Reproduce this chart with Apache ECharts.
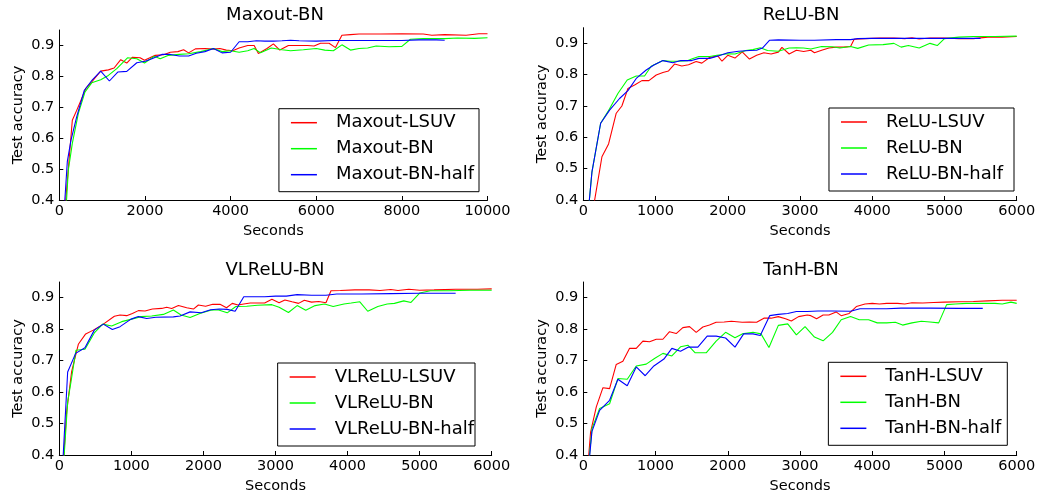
<!DOCTYPE html>
<html>
<head>
<meta charset="utf-8">
<script src="https://cdn.jsdelivr.net/npm/echarts@6/dist/echarts.min.js"></script>
<style>
html,body{margin:0;padding:0;background:#fff;}
#chart{width:1039px;height:500px;}
</style>
</head>
<body>
<div id="chart"></div>
<script>
// ---------- data: [seconds, test accuracy] ----------
var maxoutLSUV = [[145,0.39],[304,0.658],[406,0.69],[507,0.723],[616,0.76],[757,0.782],[967,0.817],[1146,0.821],[1279,0.827],[1435,0.854],[1575,0.843],[1708,0.862],[1887,0.86],[1990,0.852],[2240,0.868],[2435,0.87],[2592,0.878],[2770,0.88],[2903,0.886],[3020,0.876],[3177,0.889],[3400,0.89],[3600,0.888],[3750,0.89],[3900,0.885],[4050,0.883],[4200,0.892],[4400,0.9],[4550,0.9],[4650,0.874],[4850,0.89],[5000,0.905],[5150,0.885],[5350,0.9],[5550,0.9],[5800,0.9],[5950,0.898],[6100,0.907],[6300,0.907],[6450,0.893],[6600,0.933],[6800,0.935],[7000,0.937],[7500,0.937],[8000,0.938],[8500,0.937],[8700,0.933],[9000,0.935],[9500,0.933],[9800,0.938],[10000,0.938]];
var maxoutBN = [[165,0.39],[211,0.497],[304,0.583],[445,0.68],[601,0.75],[757,0.779],[967,0.789],[1146,0.803],[1342,0.825],[1592,0.86],[1810,0.857],[1990,0.843],[2217,0.865],[2357,0.857],[2552,0.868],[2802,0.871],[3020,0.873],[3300,0.88],[3600,0.89],[3800,0.88],[4000,0.883],[4200,0.878],[4400,0.883],[4550,0.89],[4700,0.876],[4950,0.892],[5200,0.886],[5400,0.883],[5700,0.886],[6000,0.89],[6200,0.885],[6400,0.883],[6600,0.902],[6800,0.885],[7000,0.89],[7200,0.892],[7400,0.898],[7700,0.896],[8000,0.897],[8200,0.92],[8500,0.922],[9000,0.922],[9300,0.924],[9700,0.923],[10000,0.925]];
var maxoutBNhalf = [[125,0.39],[187,0.524],[273,0.594],[406,0.669],[585,0.755],[772,0.789],[967,0.817],[1170,0.785],[1365,0.814],[1576,0.816],[1810,0.844],[2006,0.849],[2162,0.857],[2396,0.871],[2592,0.871],[2802,0.866],[3020,0.866],[3200,0.875],[3400,0.88],[3600,0.89],[3800,0.876],[4000,0.878],[4200,0.912],[4400,0.912],[4600,0.915],[4800,0.914],[5000,0.914],[5200,0.915],[5400,0.917],[5600,0.915],[6000,0.914],[6400,0.916],[7000,0.916],[8000,0.916],[8400,0.918],[8800,0.918],[9000,0.917]];

var reluLSUV = [[150,0.39],[258,0.538],[350,0.579],[456,0.677],[534,0.70],[618,0.756],[710,0.767],[811,0.781],[908,0.781],[1010,0.799],[1102,0.807],[1180,0.812],[1263,0.834],[1364,0.828],[1457,0.832],[1562,0.842],[1641,0.837],[1747,0.855],[1862,0.86],[1920,0.843],[2000,0.862],[2100,0.853],[2200,0.873],[2300,0.85],[2400,0.862],[2500,0.87],[2600,0.866],[2700,0.872],[2750,0.887],[2850,0.866],[2950,0.878],[3050,0.874],[3150,0.878],[3200,0.87],[3300,0.878],[3400,0.885],[3500,0.888],[3600,0.888],[3700,0.89],[3750,0.913],[3900,0.915],[4100,0.917],[4300,0.917],[4450,0.915],[4550,0.918],[4650,0.914],[4800,0.917],[5000,0.917],[5200,0.915],[5400,0.915],[5600,0.92],[5800,0.92],[6000,0.922]];
var reluBN = [[80,0.39],[120,0.49],[240,0.645],[341,0.682],[479,0.74],[608,0.783],[733,0.796],[848,0.796],[940,0.827],[1102,0.845],[1200,0.843],[1300,0.843],[1450,0.845],[1500,0.85],[1600,0.858],[1750,0.858],[1850,0.862],[2000,0.867],[2100,0.866],[2250,0.877],[2350,0.88],[2450,0.886],[2550,0.877],[2700,0.875],[2850,0.885],[2950,0.886],[3050,0.885],[3150,0.882],[3300,0.89],[3450,0.889],[3550,0.885],[3700,0.89],[3800,0.884],[3950,0.895],[4150,0.896],[4300,0.9],[4400,0.888],[4500,0.893],[4650,0.885],[4800,0.9],[4900,0.893],[5000,0.915],[5200,0.92],[5400,0.922],[5700,0.922],[6000,0.923]];
var reluBNhalf = [[80,0.39],[120,0.49],[240,0.645],[364,0.687],[502,0.724],[618,0.749],[733,0.788],[871,0.815],[977,0.831],[1102,0.845],[1240,0.838],[1350,0.845],[1500,0.845],[1600,0.852],[1750,0.852],[1900,0.862],[2000,0.87],[2150,0.875],[2300,0.877],[2400,0.878],[2480,0.885],[2580,0.91],[2700,0.911],[3000,0.91],[3200,0.91],[3500,0.912],[3700,0.912],[3800,0.915],[4000,0.916],[4500,0.916],[5000,0.916],[5500,0.916]];

var vlreluLSUV = [[60,0.39],[102,0.537],[171,0.665],[264,0.752],[366,0.785],[472,0.797],[611,0.816],[764,0.841],[843,0.845],[935,0.843],[1014,0.85],[1097,0.859],[1190,0.858],[1292,0.864],[1421,0.866],[1490,0.87],[1560,0.866],[1653,0.875],[1768,0.868],[1861,0.864],[1930,0.877],[2030,0.873],[2130,0.879],[2230,0.879],[2320,0.868],[2400,0.882],[2480,0.877],[2560,0.88],[2650,0.883],[2750,0.883],[2850,0.883],[2950,0.895],[3050,0.884],[3130,0.893],[3230,0.887],[3320,0.882],[3400,0.892],[3500,0.886],[3600,0.888],[3700,0.884],[3770,0.922],[3900,0.923],[4100,0.925],[4300,0.925],[4450,0.923],[4600,0.926],[4700,0.923],[4850,0.927],[5000,0.924],[5200,0.925],[5500,0.927],[5800,0.927],[6000,0.928]];
var vlreluBN = [[65,0.39],[116,0.569],[162,0.632],[231,0.733],[356,0.736],[486,0.788],[602,0.816],[727,0.81],[866,0.824],[1005,0.832],[1134,0.84],[1282,0.842],[1444,0.847],[1583,0.861],[1690,0.845],[1815,0.837],[1950,0.85],[2100,0.86],[2200,0.862],[2330,0.852],[2450,0.872],[2600,0.873],[2750,0.876],[2950,0.878],[3050,0.87],[3180,0.853],[3300,0.875],[3420,0.86],[3550,0.875],[3680,0.88],[3800,0.872],[3950,0.88],[4050,0.883],[4170,0.887],[4280,0.857],[4420,0.872],[4550,0.88],[4650,0.882],[4780,0.89],[4880,0.885],[5000,0.915],[5150,0.922],[5400,0.922],[5700,0.924],[6000,0.924]];
var vlreluBNhalf = [[52,0.39],[116,0.664],[227,0.723],[356,0.741],[486,0.797],[611,0.816],[736,0.799],[843,0.808],[995,0.832],[1097,0.84],[1213,0.834],[1338,0.838],[1583,0.839],[1676,0.842],[1815,0.855],[1970,0.852],[2100,0.862],[2220,0.864],[2330,0.863],[2440,0.857],[2560,0.903],[2700,0.903],[2850,0.903],[3000,0.905],[3150,0.905],[3300,0.91],[3500,0.908],[3700,0.908],[3850,0.912],[4200,0.912],[4600,0.913],[5000,0.914],[5500,0.914]];

var tanhLSUV = [[72,0.39],[101,0.473],[180,0.553],[272,0.614],[364,0.611],[456,0.688],[548,0.698],[641,0.739],[733,0.739],[825,0.762],[917,0.76],[1010,0.768],[1102,0.768],[1194,0.792],[1286,0.786],[1378,0.805],[1471,0.808],[1563,0.79],[1655,0.807],[1747,0.813],[1839,0.822],[1950,0.823],[2050,0.825],[2200,0.822],[2300,0.823],[2400,0.822],[2500,0.835],[2600,0.835],[2700,0.84],[2800,0.833],[2880,0.826],[2980,0.84],[3100,0.845],[3150,0.843],[3230,0.833],[3320,0.845],[3400,0.845],[3500,0.855],[3570,0.843],[3680,0.85],[3780,0.872],[3900,0.88],[4000,0.882],[4100,0.88],[4200,0.882],[4350,0.882],[4450,0.88],[4550,0.884],[4700,0.883],[4850,0.885],[5000,0.886],[5200,0.887],[5400,0.888],[5600,0.89],[5800,0.892],[6000,0.892]];
var tanhBN = [[82,0.39],[120,0.484],[226,0.548],[364,0.563],[479,0.643],[608,0.641],[733,0.683],[871,0.689],[986,0.707],[1102,0.723],[1226,0.715],[1346,0.744],[1448,0.749],[1549,0.725],[1701,0.725],[1839,0.762],[1970,0.79],[2100,0.773],[2200,0.785],[2350,0.79],[2460,0.785],[2570,0.742],[2700,0.812],[2830,0.817],[2950,0.782],[3070,0.808],[3200,0.775],[3320,0.763],[3450,0.79],[3570,0.83],[3700,0.84],[3820,0.83],[3950,0.83],[4070,0.82],[4200,0.82],[4320,0.822],[4420,0.813],[4550,0.82],[4680,0.825],[4800,0.823],[4920,0.82],[5030,0.878],[5150,0.88],[5300,0.882],[5500,0.882],[5700,0.882],[5800,0.88],[5920,0.886],[6000,0.882]];
var tanhBNhalf = [[85,0.39],[120,0.475],[226,0.542],[364,0.574],[479,0.641],[608,0.62],[733,0.68],[857,0.652],[977,0.683],[1116,0.705],[1226,0.739],[1346,0.73],[1457,0.743],[1586,0.743],[1715,0.778],[1839,0.778],[1970,0.772],[2100,0.743],[2220,0.785],[2350,0.785],[2450,0.78],[2580,0.843],[2700,0.847],[2830,0.85],[2950,0.856],[3100,0.856],[3250,0.858],[3450,0.858],[3700,0.857],[3830,0.865],[4000,0.865],[4200,0.865],[4400,0.867],[4800,0.867],[5200,0.866],[5530,0.866]];

var panelTitles = ['Maxout-BN', 'ReLU-BN', 'VLReLU-BN', 'TanH-BN'];
var seriesNames = [
  ['Maxout-LSUV', 'Maxout-BN', 'Maxout-BN-half'],
  ['ReLU-LSUV', 'ReLU-BN', 'ReLU-BN-half'],
  ['VLReLU-LSUV', 'VLReLU-BN', 'VLReLU-BN-half'],
  ['TanH-LSUV', 'TanH-BN', 'TanH-BN-half']
];
var seriesData = [
  [maxoutLSUV, maxoutBN, maxoutBNhalf],
  [reluLSUV, reluBN, reluBNhalf],
  [vlreluLSUV, vlreluBN, vlreluBNhalf],
  [tanhLSUV, tanhBN, tanhBNhalf]
];
var xMax = [10000, 6000, 6000, 6000];
var xInterval = [2000, 1000, 1000, 1000];
var yTicks = [0.4, 0.5, 0.6, 0.7, 0.8, 0.9];
var yMin = 0.4, yMax = 0.95;

// ---------- layout / style ----------
var colors = ['#ff0000', '#00ff00', '#0000ff'];
var FONT = 'DejaVu Sans';
var grids = [
  {left: 59.3, right: 551.5, top: 30, bottom: 300},
  {left: 583.3, right: 22.3, top: 27.7, bottom: 300},
  {left: 59.3, right: 547.3, top: 282, bottom: 45},
  {left: 583.3, right: 22.3, top: 282, bottom: 45}
];
var titlePos = [{x: 275, y: 6.5}, {x: 801, y: 6}, {x: 275, y: 261.5}, {x: 801, y: 261.5}];
var legendPos = [
  {right: 560, bottom: 308.3, pr: 5},
  {right: 25, bottom: 309, pr: 11},
  {right: 564, bottom: 54, pr: 1},
  {right: 31.7, bottom: 54.7, pr: 6}
];

var option = {
  backgroundColor: '#ffffff',
  animation: false,
  textStyle: {fontFamily: FONT},
  title: [], grid: [], xAxis: [], yAxis: [], legend: [], series: []
};

for (var i = 0; i < 4; i++) {
  option.title.push({
    text: panelTitles[i], left: titlePos[i].x, top: titlePos[i].y, textAlign: 'center', padding: 0,
    textStyle: {fontFamily: FONT, fontSize: 18, fontWeight: 'normal', color: '#000'}
  });
  option.grid.push(Object.assign({containLabel: false, outerBoundsMode: 'none'}, grids[i]));
  option.xAxis.push({
    type: 'value', gridIndex: i, min: 0, max: xMax[i], interval: xInterval[i],
    name: 'Seconds', nameLocation: 'middle', nameGap: 24,
    nameTextStyle: {fontFamily: FONT, fontSize: 14.5, color: '#000'},
    axisLine: {show: true, onZero: false, lineStyle: {color: '#000', width: 1}},
    axisTick: {show: true, inside: true, length: 4, lineStyle: {color: '#000'}},
    axisLabel: {fontFamily: FONT, fontSize: 14.5, color: '#000', margin: 4,
      formatter: function (v) { return String(v); }},
    splitLine: {show: false}
  });
  option.yAxis.push({
    type: 'value', gridIndex: i, min: yMin, max: yMax, interval: 0.1,
    name: 'Test accuracy', nameLocation: 'middle', nameGap: 34,
    nameTextStyle: {fontFamily: FONT, fontSize: 14.5, color: '#000'},
    axisLine: {show: true, onZero: false, lineStyle: {color: '#000', width: 1}},
    axisTick: {show: true, inside: true, length: 4, customValues: yTicks, lineStyle: {color: '#000'}},
    axisLabel: {fontFamily: FONT, fontSize: 14.5, color: '#000', margin: 5, customValues: yTicks,
      formatter: function (v) { return (Math.round(v * 10) / 10).toFixed(1); }},
    splitLine: {show: false}
  });
  option.legend.push({
    data: seriesNames[i], orient: 'vertical', right: legendPos[i].right, bottom: legendPos[i].bottom,
    padding: [5, legendPos[i].pr, 8, 12], itemGap: 8, itemWidth: 26, itemHeight: 1.5, icon: 'rect',
    borderColor: '#000', borderWidth: 1, backgroundColor: '#fff', borderRadius: 0,
    selectedMode: false,
    textStyle: {fontFamily: FONT, fontSize: 18, color: '#000', padding: [0, 0, 0, 14]}
  });
  for (var s = 0; s < 3; s++) {
    option.series.push({
      type: 'line', name: seriesNames[i][s], xAxisIndex: i, yAxisIndex: i,
      data: seriesData[i][s], symbol: 'none', showSymbol: false, clip: true,
      lineStyle: {color: colors[s], width: 1.1}, itemStyle: {color: colors[s]}
    });
  }
}

var chart = echarts.init(document.getElementById('chart'), null, {renderer: 'canvas'});
chart.setOption(option);
</script>
</body>
</html>
